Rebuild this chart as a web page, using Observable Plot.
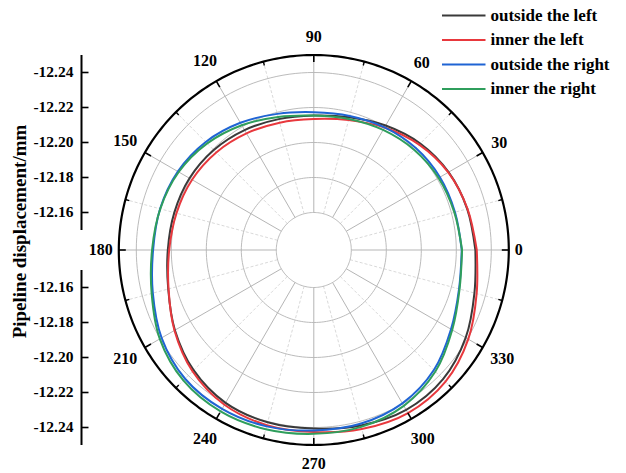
<!DOCTYPE html>
<html>
<head>
<meta charset="utf-8">
<script src="https://cdn.jsdelivr.net/npm/d3@7"></script>
<script src="https://cdn.jsdelivr.net/npm/@observablehq/plot@0.6"></script>
<style>
  body { margin: 0; background: #fff; }
  #chart { width: 626px; height: 473px; }
</style>
</head>
<body>
<div id="chart"></div>
<script>
// ---- data (angle in degrees, displacement in mm); 360 closes the loop at 0 ----
const angles = [0, 15, 30, 45, 60, 75, 90, 105, 120, 135, 150, 165, 180, 195, 210, 225, 240, 255, 270, 285, 300, 315, 330, 345, 360];
const outsideLeft  = [-12.2309, -12.2293, -12.2275, -12.2246, -12.2207, -12.2171, -12.2154, -12.2160, -12.2177, -12.2194, -12.2206, -12.2211, -12.2220, -12.2247, -12.2302, -12.2357, -12.2394, -12.2405, -12.2406, -12.2424, -12.2441, -12.2430, -12.2388, -12.2336, -12.2309];
const innerLeft    = [-12.2317, -12.2295, -12.2273, -12.2237, -12.2194, -12.2154, -12.2134, -12.2139, -12.2155, -12.2174, -12.2189, -12.2198, -12.2212, -12.2245, -12.2305, -12.2366, -12.2407, -12.2422, -12.2426, -12.2445, -12.2462, -12.2450, -12.2405, -12.2349, -12.2317];
const outsideRight = [-12.2231, -12.2221, -12.2218, -12.2210, -12.2195, -12.2179, -12.2173, -12.2191, -12.2225, -12.2259, -12.2283, -12.2295, -12.2304, -12.2338, -12.2390, -12.2426, -12.2434, -12.2429, -12.2417, -12.2414, -12.2398, -12.2356, -12.2291, -12.2245, -12.2231];
const innerRight   = [-12.2233, -12.2217, -12.2209, -12.2196, -12.2178, -12.2161, -12.2154, -12.2173, -12.2209, -12.2247, -12.2277, -12.2294, -12.2310, -12.2345, -12.2402, -12.2440, -12.2451, -12.2446, -12.2436, -12.2432, -12.2414, -12.2368, -12.2299, -12.2248, -12.2233];

const seriesNames  = ["outside the left", "inner the left", "outside the right", "inner the right"];
const seriesColors = ["#3a3a3a", "#e8383d", "#1f64d4", "#2f9e5c"];

const radialTicks      = [-12.16, -12.18, -12.20, -12.22, -12.24];
const radialTickLabels = ["-12.16", "-12.18", "-12.20", "-12.22", "-12.24"];
const angleTicks  = [0, 30, 60, 90, 120, 150, 180, 210, 240, 270, 300, 330];
const angleLabels = ["0", "30", "60", "90", "120", "150", "180", "210", "240", "270", "300", "330"];
const radialAxisStart = -12.15;
const radialAxisEnd   = -12.25;
const yTitle = "Pipeline displacement/mm";

// ---- layout ----
const W = 626, H = 473;
const CX = 313.3, CY = 249.5;     // pole, px
const K = 1750;                   // px per mm
const POLE = -12.13857;           // value at the pole
const rr = v => POLE - v;         // radial distance (mm units)
const rad = a => a * Math.PI / 180;
const px = p => (p - CX) / K;     // pixel -> x units
const py = p => (CY - p) / K;     // pixel -> y units
const polX = (v, a) => rr(v) * Math.cos(rad(a));
const polY = (v, a) => rr(v) * Math.sin(rad(a));

const FONT = "'Liberation Serif', 'Times New Roman', serif";

// data rows
const valueSets = [outsideLeft, innerLeft, outsideRight, innerRight];
const rows = [];
seriesNames.forEach((name, i) => {
  angles.forEach((a, j) => rows.push({series: name, angle: a, value: valueSets[i][j]}));
});

// grid circles
const gridRows = radialTicks.flatMap(v => d3.range(0, 360, 2).map(a => ({v, a})));
const outerRows = d3.range(0, 360, 1).map(a => ({v: radialAxisEnd, a}));
const minorAngles = angleTicks.map(a => a + 15);

// angular ticks
const outerR = rr(radialAxisEnd);
const majorLen = 7 / K, minorLen = 4 / K;

// angle label radius
const labelR = (a, s) => {
  const c = Math.abs(Math.cos(rad(a))), si = Math.abs(Math.sin(rad(a)));
  return (outerR * K + 6 + c * s.length * 4 + si * 12.5) / K;
};

// left radial axis
const axisX = px(81);
const tickRows = [1, -1].flatMap(s => radialTicks.map((v, i) => ({s, v, label: radialTickLabels[i]})));

// legend
const legendY = [15, 39.5, 64, 88.5];

const chart = Plot.plot({
  width: W, height: H,
  margin: 0,
  x: {domain: [px(0), px(W)], axis: null},
  y: {domain: [py(H), py(0)], axis: null},
  color: {domain: seriesNames, range: seriesColors},
  style: {fontFamily: FONT, fontWeight: "bold", background: "#fff", color: "#000"},
  marks: [
    // dashed minor spokes
    Plot.link(minorAngles, {
      x1: a => polX(radialTicks[0], a), y1: a => polY(radialTicks[0], a),
      x2: a => polX(radialAxisEnd, a), y2: a => polY(radialAxisEnd, a),
      stroke: "#cfcfcf", strokeWidth: 0.8, strokeDasharray: "3,2"
    }),
    // solid major spokes
    Plot.link(angleTicks, {
      x1: a => polX(radialTicks[0], a), y1: a => polY(radialTicks[0], a),
      x2: a => polX(radialAxisEnd, a), y2: a => polY(radialAxisEnd, a),
      stroke: "#adadad", strokeWidth: 0.9
    }),
    // grid circles
    Plot.line(gridRows, {
      x: d => polX(d.v, d.a), y: d => polY(d.v, d.a), z: "v",
      curve: "linear-closed", stroke: "#b3b3b3", strokeWidth: 0.9
    }),
    // data curves
    Plot.line(rows, {
      x: d => polX(d.value, d.angle), y: d => polY(d.value, d.angle),
      z: "series", stroke: "series", curve: "catmull-rom", strokeWidth: 2
    }),
    // outer circle
    Plot.line(outerRows, {
      x: d => polX(d.v, d.a), y: d => polY(d.v, d.a),
      curve: "linear-closed", stroke: "#000", strokeWidth: 2.2
    }),
    // angular ticks
    Plot.link(angleTicks, {
      x1: a => outerR * Math.cos(rad(a)), y1: a => outerR * Math.sin(rad(a)),
      x2: a => (outerR - majorLen) * Math.cos(rad(a)), y2: a => (outerR - majorLen) * Math.sin(rad(a)),
      stroke: "#000", strokeWidth: 1.6
    }),
    Plot.link(minorAngles, {
      x1: a => outerR * Math.cos(rad(a)), y1: a => outerR * Math.sin(rad(a)),
      x2: a => (outerR - minorLen) * Math.cos(rad(a)), y2: a => (outerR - minorLen) * Math.sin(rad(a)),
      stroke: "#000", strokeWidth: 1.4
    }),
    // angle labels
    Plot.text(angleTicks, {
      x: (a, i) => labelR(a, angleLabels[i]) * Math.cos(rad(a)),
      y: (a, i) => labelR(a, angleLabels[i]) * Math.sin(rad(a)),
      text: (a, i) => angleLabels[i],
      fontSize: 16, fontWeight: "bold", fill: "#000"
    }),
    // left radial axis (mirrored)
    Plot.link([1, -1], {
      x1: () => axisX, x2: () => axisX,
      y1: s => s * rr(radialAxisStart), y2: s => s * rr(radialAxisEnd),
      stroke: "#000", strokeWidth: 2
    }),
    Plot.link(tickRows, {
      x1: () => axisX, x2: () => axisX + 7 / K,
      y1: d => d.s * rr(d.v), y2: d => d.s * rr(d.v),
      stroke: "#000", strokeWidth: 1.6
    }),
    Plot.text(tickRows, {
      x: () => axisX - 8 / K, y: d => d.s * rr(d.v), text: "label",
      textAnchor: "end", fontSize: 15.5, fontWeight: "bold", fill: "#000"
    }),
    // axis title
    Plot.text([yTitle], {
      x: () => px(19), y: () => py(231), text: d => d,
      rotate: -90, fontSize: 19, fontWeight: "bold", fill: "#000"
    }),
    // legend
    Plot.link(seriesNames, {
      x1: () => px(441.5), x2: () => px(485),
      y1: (d, i) => py(legendY[i]), y2: (d, i) => py(legendY[i]),
      stroke: d => d, strokeWidth: 2
    }),
    Plot.text(seriesNames, {
      x: () => px(490), y: (d, i) => py(legendY[i]), text: d => d,
      textAnchor: "start", fontSize: 17, fontWeight: "bold", fill: "#000"
    })
  ]
});
document.getElementById("chart").appendChild(chart);
</script>
</body>
</html>
